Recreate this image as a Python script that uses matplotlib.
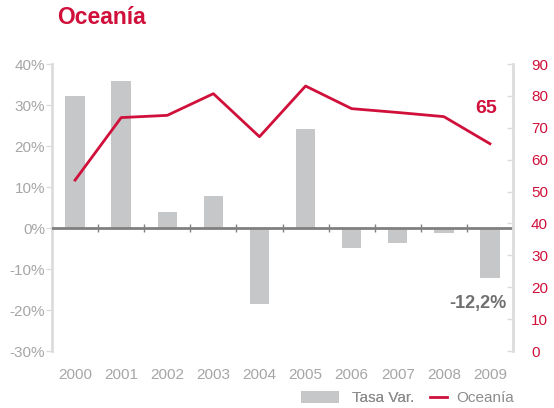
import matplotlib.pyplot as plt

years = ["2000", "2001", "2002", "2003", "2004", "2005", "2006", "2007", "2008", "2009"]
tasa_var = [32.3, 35.9, 4.0, 7.9, -18.5, 24.1, -4.8, -3.7, -1.3, -12.2]
oceania = [53.6, 73.2, 73.9, 80.7, 67.2, 83.1, 76.0, 74.8, 73.5, 65]

red = "#d0103a"
bar_gray = "#c6c7c9"
txt_gray = "#a6a6a6"
axis_gray = "#dcdcdc"

plt.rcParams["font.family"] = ["Liberation Sans", "DejaVu Sans"]

fig = plt.figure(figsize=(5.54, 4.08), dpi=100)
ax = fig.add_axes([0.0939, 0.1397, 0.8321, 0.7034])
ax2 = ax.twinx()

x = list(range(len(years)))
bars = ax.bar(x, tasa_var, width=0.42, color=bar_gray, zorder=2, label="Tasa Var.")
ax.axhline(0, color="#808080", lw=2, zorder=3)
ax.plot([i + 0.5 for i in range(len(years) - 1)], [0] * (len(years) - 1),
        ls="none", marker="|", ms=6, mew=1, color="#808080", zorder=3)

ax.set_xlim(-0.5, len(years) - 0.5)
ax.set_ylim(-30, 40)
ax.set_yticks(range(-30, 41, 10))
ax.set_yticklabels([f"{v}%" for v in range(-30, 41, 10)])
ax.set_xticks(x)
ax.set_xticklabels(years)
ax.tick_params(axis="x", length=0, pad=12, labelsize=11, labelcolor=txt_gray)
ax.tick_params(axis="y", length=4, width=1, color=axis_gray, pad=1,
               labelsize=11, labelcolor=txt_gray)

line, = ax2.plot(x, oceania, color=red, lw=2, zorder=4, label="Oceanía")
ax2.set_ylim(0, 90)
ax2.set_yticks(range(0, 91, 10))
ax2.tick_params(axis="y", length=4, width=1, color=axis_gray, direction="in",
                pad=13, labelsize=11, labelcolor=red)

for a in (ax, ax2):
    for s in ("top", "bottom"):
        a.spines[s].set_visible(False)
    a.spines["left"].set_color(axis_gray)
    a.spines["right"].set_color(axis_gray)
    a.spines["left"].set_linewidth(2)
    a.spines["right"].set_linewidth(2)
ax.spines["right"].set_visible(False)
ax2.spines["left"].set_visible(False)

ax2.annotate(f"{oceania[-1]:.0f}", (x[-1], oceania[-1]), xytext=(-3, 19),
             textcoords="offset points", ha="center", va="bottom",
             fontsize=14, fontweight="bold", color=red)
ax.annotate(f"{tasa_var[-1]:.1f}%".replace(".", ","), (x[-1], tasa_var[-1]),
            xytext=(-9, -12), textcoords="offset points", ha="center", va="top",
            fontsize=13, fontweight="bold", color="#707070")

fig.text(0.103, 0.928, "Oceanía", fontsize=16.5, fontweight="bold", color=red,
         va="bottom", ha="left")

# two legends so the bar swatch and the line sample get different lengths
leg1 = fig.legend([bars], ["Tasa Var."], loc="center left",
                  bbox_to_anchor=(0.543, 0.024), frameon=False, fontsize=11,
                  labelcolor="#8c8c8c", handlelength=2.5, handleheight=0.8,
                  handletextpad=0.85, borderpad=0, borderaxespad=0)
fig.legend([line], ["Oceanía"], loc="center left",
           bbox_to_anchor=(0.776, 0.024), frameon=False, fontsize=11,
           labelcolor="#8c8c8c", handlelength=1.1, handletextpad=0.6,
           borderpad=0, borderaxespad=0)
fig.add_artist(leg1)

fig.savefig("out.png", dpi=100)
